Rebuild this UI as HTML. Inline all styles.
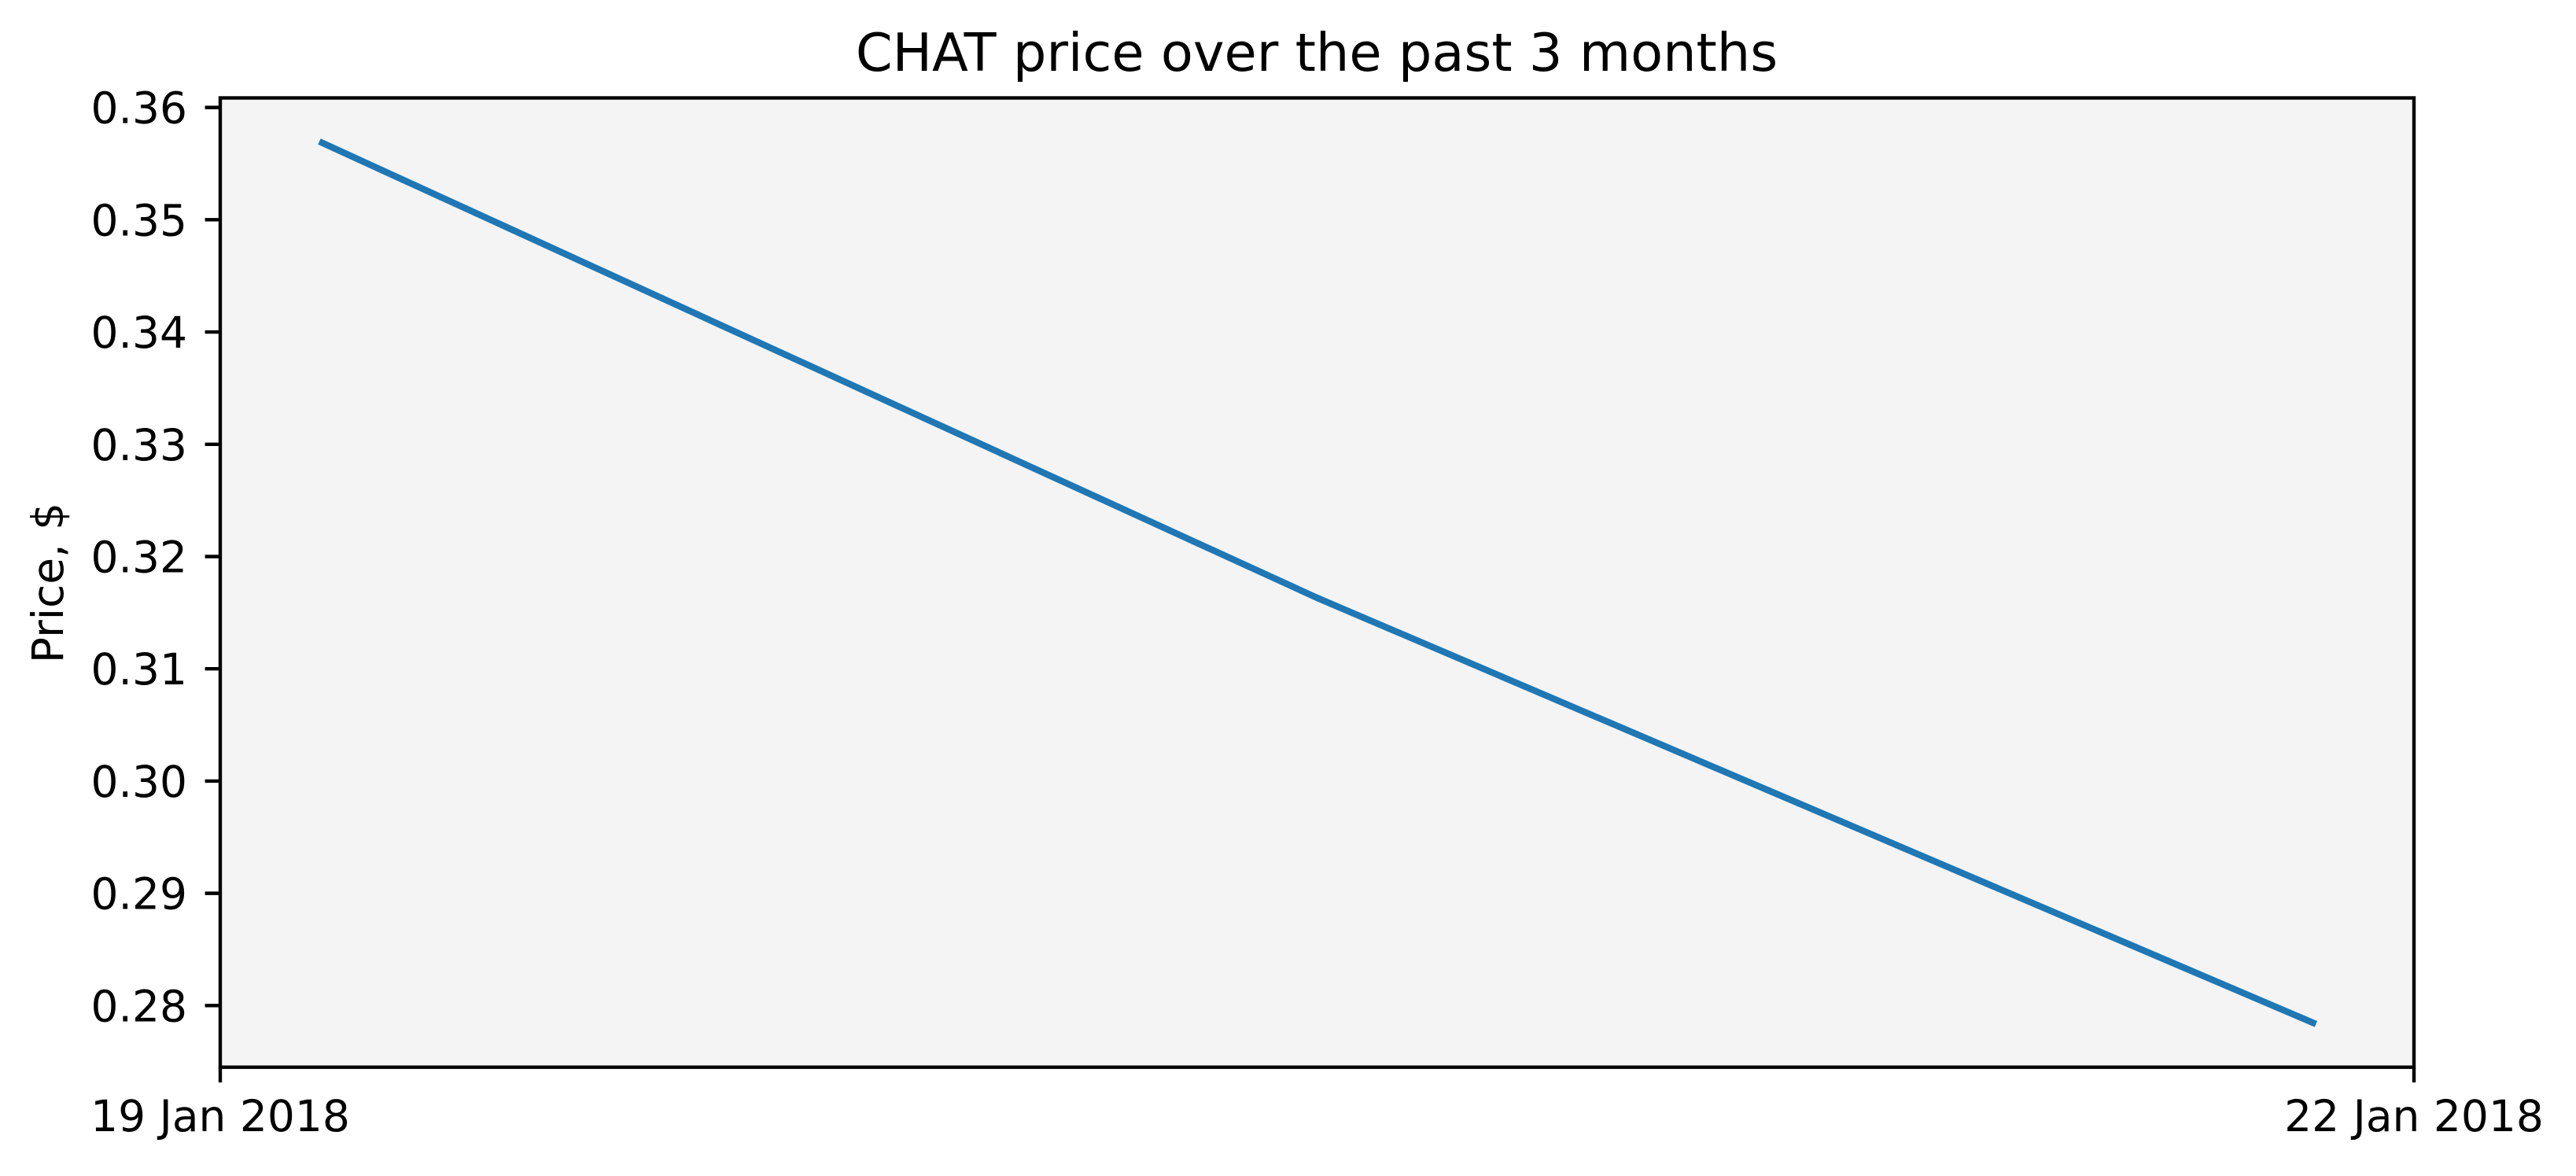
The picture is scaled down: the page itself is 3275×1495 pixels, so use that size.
<!DOCTYPE html>
<html><head><meta charset="utf-8"><style>
html,body{margin:0;padding:0;background:#fff;}
svg text{font-family:"DejaVu Sans","Liberation Sans",sans-serif;fill:#000;}
</style></head><body>
<svg id="chart" width="3275" height="1490" viewBox="0 0 3275 1490" xmlns="http://www.w3.org/2000/svg">
<rect x="0" y="0" width="3275" height="1490" fill="#fff"/>
<rect id="plotbg" fill="#f4f4f4"/>
<g id="marks"></g>
<g id="axes"></g>
<text x="1674" y="90" font-size="67" text-anchor="middle">CHAT price over the past 3 months</text>
<text transform="translate(80,741) rotate(-90)" font-size="55" text-anchor="middle">Price, $</text>
</svg>
<script>
// data (x in days since 19 Jan 2018)
const xValues = [0.1355, 1.50, 2.866];
const priceValues = [0.35697, 0.31632, 0.27836];
const yTicks = [0.28, 0.29, 0.30, 0.31, 0.32, 0.33, 0.34, 0.35, 0.36];
const yTickLabels = ["0.28","0.29","0.30","0.31","0.32","0.33","0.34","0.35","0.36"];
const xTicks = [0, 3];
const xTickLabels = ["19 Jan 2018", "22 Jan 2018"];

const L=280, R=3069, T=124.5, B=1356.7;
const xMin=0, xMax=3, yMin=0.27451, yMax=0.36085;
const sx = v => L + (v - xMin) / (xMax - xMin) * (R - L);
const sy = v => B - (v - yMin) / (yMax - yMin) * (B - T);
const NS="http://www.w3.org/2000/svg";
function mk(tag, attrs, parent){const e=document.createElementNS(NS,tag);for(const k in attrs)e.setAttribute(k,attrs[k]);parent.appendChild(e);return e;}

const bg=document.getElementById('plotbg');
bg.setAttribute('x',L);bg.setAttribute('y',T);bg.setAttribute('width',R-L);bg.setAttribute('height',B-T);

const marks=document.getElementById('marks');
const pts=xValues.map((x,i)=>sx(x).toFixed(1)+','+sy(priceValues[i]).toFixed(1)).join(' ');
const line=mk('polyline',{points:pts,fill:'none',stroke:'#1f77b4','stroke-width':8.3,'stroke-linejoin':'round','stroke-linecap':'butt'},marks);



const axes=document.getElementById('axes');
const frame=mk('rect',{x:L,y:T,width:R-L,height:B-T,fill:'none',stroke:'#000','stroke-width':4.4},axes);



yTicks.forEach((v,i)=>{
  const y=sy(v);
  const t=mk('line',{x1:L-19.4,x2:L,y1:y,y2:y,stroke:'#000','stroke-width':4.4},axes);
  
  
  const lb=mk('text',{x:L-42,y:y+20,'font-size':55,'text-anchor':'end'},axes);
  lb.textContent=yTickLabels[i];
  
  
});
xTicks.forEach((v,i)=>{
  const x=sx(v);
  const t=mk('line',{x1:x,x2:x,y1:B,y2:B+19.4,stroke:'#000','stroke-width':4.4},axes);
  
  
  const lb=mk('text',{x:x,y:1438,'font-size':55,'text-anchor':'middle'},axes);
  lb.textContent=xTickLabels[i];
  
  
});
</script>
</body></html>
